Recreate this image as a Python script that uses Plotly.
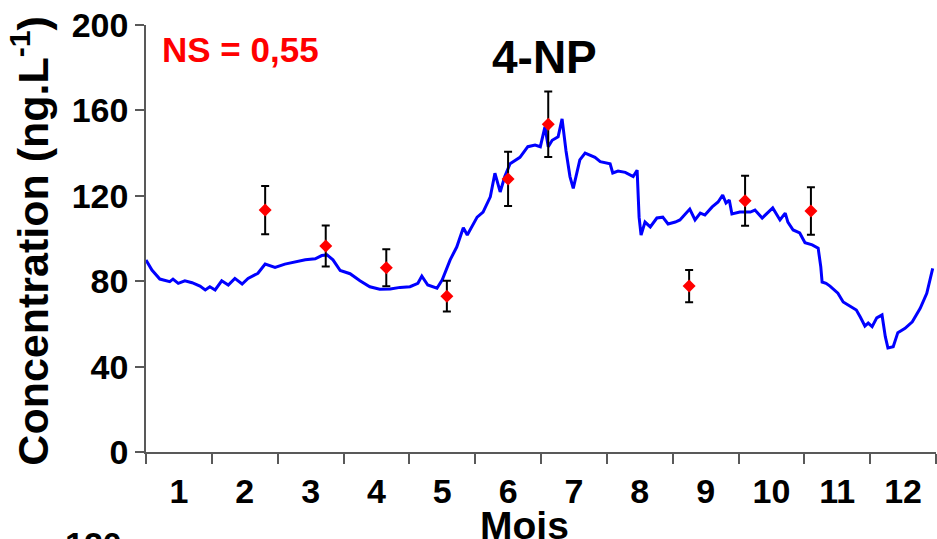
import plotly.graph_objects as go

# Modelled 4-NP concentration through the year (x in months, 0 = start of January)
model_month = [
    0.00, 0.09, 0.21, 0.36, 0.41, 0.49, 0.59, 0.70, 0.82, 0.90,
    0.97, 1.05, 1.15, 1.25, 1.35, 1.46, 1.55, 1.70, 1.81, 1.96,
    2.11, 2.26, 2.42, 2.57, 2.67, 2.75, 2.84, 2.95, 3.10, 3.25,
    3.40, 3.55, 3.71, 3.86, 4.01, 4.13, 4.19, 4.28, 4.42, 4.50,
    4.62, 4.72, 4.82, 4.88, 5.03, 5.12, 5.23, 5.30, 5.38, 5.45,
    5.53, 5.68, 5.80, 5.91, 5.99, 6.06, 6.11, 6.17, 6.26, 6.32,
    6.38, 6.44, 6.49, 6.59, 6.67, 6.82, 6.90, 7.05, 7.09, 7.17,
    7.28, 7.40, 7.46, 7.49, 7.52, 7.58, 7.66, 7.76, 7.85, 7.93,
    8.04, 8.11, 8.26, 8.34, 8.42, 8.49, 8.60, 8.69, 8.76, 8.81,
    8.86, 8.90, 9.02, 9.18, 9.25, 9.36, 9.45, 9.52, 9.63, 9.71,
    9.75, 9.83, 9.93, 10.01, 10.12, 10.21, 10.25, 10.27, 10.33, 10.39,
    10.51, 10.59, 10.69, 10.79, 10.85, 10.92, 10.97, 11.03, 11.10, 11.18,
    11.23, 11.27, 11.35, 11.42, 11.53, 11.64, 11.76, 11.86, 11.95,
]
model_conc = [
    89.9, 85.2, 81.0, 79.8, 81.0, 79.0, 80.2, 79.3, 77.7, 75.9,
    77.4, 75.9, 80.2, 78.2, 81.3, 78.7, 81.3, 83.7, 88.0, 86.5,
    88.0, 89.0, 90.0, 90.5, 92.0, 92.3, 90.0, 85.0, 83.5, 80.2,
    77.4, 76.2, 76.3, 77.1, 77.4, 79.0, 82.4, 78.2, 76.7, 80.6,
    90.0, 96.0, 105.0, 101.6, 110.0, 112.4, 119.5, 130.6, 121.8, 129.0,
    135.0, 138.0, 143.0, 143.8, 143.0, 152.3, 143.0, 146.0, 147.6, 156.0,
    141.0, 129.0, 123.5, 136.8, 140.0, 138.0, 136.0, 135.0, 130.7, 131.6,
    131.0, 129.0, 132.0, 110.0, 101.6, 107.7, 105.4, 109.6, 110.0, 106.8,
    107.7, 108.7, 113.8, 108.7, 111.9, 111.0, 114.8, 117.1, 120.4, 116.6,
    118.0, 111.5, 112.4, 112.4, 113.3, 109.6, 112.4, 114.3, 108.7, 111.9,
    107.7, 104.0, 102.6, 98.0, 97.0, 95.5, 86.7, 79.6, 79.0, 77.7,
    74.4, 70.3, 68.4, 66.5, 63.2, 59.0, 60.4, 58.7, 62.8, 64.2,
    54.0, 48.7, 49.3, 55.9, 57.9, 61.0, 67.3, 74.3, 86.0,
]

# Measured samples with their uncertainty
sample_month = [1.81, 2.73, 3.65, 4.57, 5.50, 6.11, 8.25, 9.10, 10.10]
sample_conc = [113.3, 96.5, 86.3, 73.0, 127.9, 153.5, 77.7, 117.7, 112.9]
sample_err = [11.3, 9.6, 8.7, 7.2, 12.7, 15.3, 7.6, 11.7, 11.1]

month_labels = [str(m) for m in range(1, 13)]
month_centres = [m - 0.5 for m in range(1, 13)]
y_ticks = [0, 40, 80, 120, 160, 200]

FONT = "Liberation Sans, Arial, sans-serif"
AXIS_GREY = "#595959"

fig = go.Figure()

fig.add_trace(go.Scatter(
    x=model_month, y=model_conc, mode="lines",
    line=dict(color="#0000FF", width=3),
    showlegend=False, hoverinfo="skip",
))

fig.add_trace(go.Scatter(
    x=sample_month, y=sample_conc, mode="markers",
    marker=dict(symbol="diamond", size=10, color="#FF0000", line=dict(width=0)),
    error_y=dict(type="data", array=sample_err, visible=True,
                 color="black", thickness=2, width=4),
    showlegend=False,
))

fig.update_xaxes(
    range=[0, 12],
    tickvals=month_centres, ticktext=month_labels,
    ticks="outside", ticklen=8, tickcolor="rgba(0,0,0,0)",
    minor=dict(tick0=0, dtick=1, ticks="outside", ticklen=10,
               tickcolor=AXIS_GREY, tickwidth=1.5),
    showline=True, linecolor=AXIS_GREY, linewidth=2,
    showgrid=False, zeroline=False,
    tickfont=dict(family=FONT, size=34, color="black", weight="bold"),
)
fig.update_yaxes(
    range=[0, 200],
    tickvals=y_ticks,
    ticks="outside", ticklen=9, tickcolor=AXIS_GREY, tickwidth=1.5,
    showline=True, linecolor=AXIS_GREY, linewidth=1.5,
    showgrid=False, zeroline=False,
    tickfont=dict(family=FONT, size=34, color="black", weight="bold"),
)

annotations = [
    dict(text="4-NP", x=0.5038, y=0.925, xref="paper", yref="paper",
         xanchor="center", yanchor="middle", showarrow=False,
         font=dict(family=FONT, size=46, color="black", weight="bold")),
    dict(text="NS = 0,55", x=0.0177, y=0.9426, xref="paper", yref="paper",
         xanchor="left", yanchor="middle", showarrow=False,
         font=dict(family=FONT, size=35, color="#FF0000", weight="bold")),
    dict(text="Mois", x=0.4785, y=-0.117, xref="paper", yref="paper",
         xanchor="center", yanchor="top", showarrow=False,
         font=dict(family=FONT, size=39, color="black", weight="bold")),
    dict(text="Concentration (ng.L<sup>-1</sup>)", x=-0.1468, y=0.495,
         xref="paper", yref="paper", xanchor="center", yanchor="middle",
         textangle=-90, showarrow=False,
         font=dict(family=FONT, size=43, color="black", weight="bold")),
    dict(text="120", x=-0.0278, y=-0.2155, xref="paper", yref="paper",
         xanchor="right", yanchor="middle", showarrow=False,
         font=dict(family=FONT, size=34, color="black", weight="bold")),
]

fig.update_layout(
    width=937, height=539,
    margin=dict(l=146, r=1, t=25, b=87),
    paper_bgcolor="white", plot_bgcolor="white",
    annotations=annotations,
    showlegend=False,
)

fig.write_html("out.html", include_plotlyjs=True, full_html=True,
               config={"displayModeBar": False})
